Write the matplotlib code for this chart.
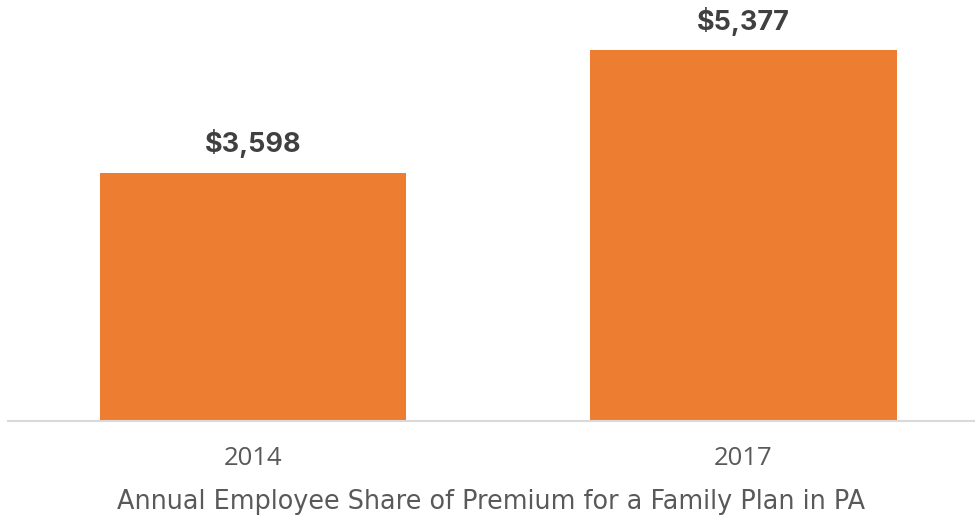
import matplotlib
matplotlib.use("Agg")
import matplotlib.pyplot as plt

categories = ["2014", "2017"]
values = [3598, 5377]
value_labels = ["$3,598", "$5,377"]
xlabel = "Annual Employee Share of Premium for a Family Plan in PA"

plt.rcParams['font.family'] = ['Inter', 'DejaVu Sans']

fig = plt.figure(figsize=(9.77, 5.19), dpi=100)
ax = fig.add_axes([8/977, (519-421)/519, 966/977, 421/519])
x = list(range(len(categories)))
ax.bar(x, values, width=0.625, color="#ED7D31", zorder=2)
for xi, v, lab in zip(x, values, value_labels):
    ax.text(xi, v + 420, lab, ha="center", va="center", fontsize=19.5,
            fontweight="bold", color="#404040")
ax.set_xlim(-0.5, 1.47)
ax.set_ylim(0, 6102)
ax.set_yticks([])
ax.set_xticks(x)
ax.set_xticklabels(categories, fontsize=18.5, color="#595959",
                   family=["Open Sans"])
ax.tick_params(axis="x", length=0, pad=18)
for s in ["top", "left", "right"]:
    ax.spines[s].set_visible(False)
ax.spines["bottom"].set_color("#D9D9D9")
ax.spines["bottom"].set_linewidth(1.5)
ax.set_xlabel(xlabel, fontsize=18.4, color="#595959", labelpad=13,
              family=["DejaVu Sans"])
fig.savefig("out.png", dpi=100)
